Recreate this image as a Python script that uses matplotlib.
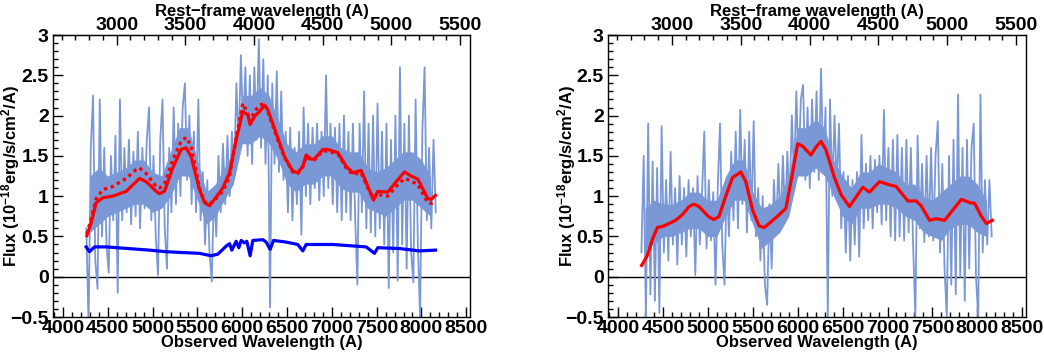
import numpy as np
import matplotlib
matplotlib.use("Agg")
import matplotlib.pyplot as plt
from matplotlib.ticker import MultipleLocator

plt.rcParams['font.family'] = ['Liberation Sans', 'DejaVu Sans']
plt.rcParams['font.weight'] = 'bold'
plt.rcParams['mathtext.default'] = 'bf'
plt.rcParams['mathtext.fontset'] = 'custom'
plt.rcParams['mathtext.bf'] = 'Liberation Sans:bold'

zp1 = 1.533  # 1+z, observed / rest

# spectrum sampling (observed wavelength, A)
wave = np.arange(4260, 8161, 25)

flux_left = [
    0.6, -0.6, 1.6, 2.25, 0.2, -0.15, 2.2, 0.5, 1.6, 0.4,
    0.05, 1.5, 0.7, 1.75, -0.2, 2.2, 0.7, 1.6, 0.8, 1.7,
    0.65, 1.55, 0.75, 1.8, 0.6, 1.6, 0.85, 1.7, 2.1, 0.7,
    1.5, 0.5, 0.02, 1.7, 2.2, 0.6, 0.1, 1.6, 0.8, 2.1,
    0.9, 1.9, 1.0, 2.1, 2.4, 1.2, 2.0, 0.9, 1.8, 0.8,
    2.2, 0.7, 1.3, 0.4, 1.2, 0.3, -0.06, 1.1, 0.5, 1.5,
    0.8, 1.65, 0.9, 1.75, 1.0, 1.8, 1.3, 2.4, 1.6, 2.75,
    1.8, 2.6, 1.5, 2.5, 1.4, 2.6, 1.7, 2.95, 1.6, 2.7,
    1.4, 2.5, -0.38, 2.4, 1.4, 2.55, 1.3, 2.3, 1.2, 1.8,
    0.8, 1.85, 0.7, 1.6, 0.9, 1.8, 0.52, 2.1, 1.0, 1.9,
    0.9, 1.85, 1.1, 1.9, 0.95, 1.8, 1.0, 2.5, 1.1, 1.9,
    0.9, 1.85, 0.8, 1.9, 0.7, 2.0, 0.8, 1.8, 0.7, 1.9,
    0.75, -0.1, 1.9, 0.8, 2.3, 0.6, 1.9, 0.55, 2.0, 0.5,
    2.15, 0.6, 1.8, 0.4, 1.9, -0.14, 1.7, 0.3, 2.0, -0.05,
    2.6, 0.4, 1.9, 0.1, 2.0, 0.3, -0.07, 2.2, 0.4, -0.5,
    1.8, 2.6, 0.7, 1.6, 0.6, 1.7, 0.8,
]

flux_right = [
    0.3, 1.5, -0.5, 1.9, -0.22, 1.43, -0.3, 1.35, -0.45, 1.87,
    0.3, 1.2, 0.2, 1.55, 0.4, 1.1, 0.15, 1.25, 0.4, 1.1,
    0.25, 1.2, 0.5, 1.1, 0.02, 1.25, 0.4, 1.05, 1.8, 0.35,
    1.2, 0.45, 1.05, -0.1, 1.1, 1.9, 0.4, -0.1, 1.2, 0.5,
    1.55, 0.7, 1.8, 0.6, 2.07, 0.9, 1.7, 0.55, 1.8, 0.7,
    1.93, 0.5, 1.1, 0.2, 1.0, -0.1, -0.35, 0.9, 0.1, 1.2,
    0.55, 1.4, 0.6, 1.5, 0.7, 1.55, 0.9, 2.0, 1.2, 2.3,
    1.3, 2.2, 2.38, 1.2, 2.1, 1.1, 2.2, 1.3, 2.3, 1.2,
    2.58, 1.3, 2.1, -0.5, 2.2, 1.0, 2.0, 1.1, 1.9, 0.6,
    1.3, 0.3, 1.25, 0.2, 1.2, 0.4, 1.3, 0.25, 1.76, 0.6,
    1.4, 0.7, 1.5, 0.6, 1.45, 0.8, 1.5, 0.65, 2.07, 0.7,
    1.6, 0.5, 1.7, 0.45, 1.76, 0.5, 1.6, 0.45, 1.7, 0.55,
    1.6, 0.4, -0.5, 1.75, 0.6, 1.4, 0.43, 1.5, 0.5, 1.6,
    0.45, 1.5, 1.93, 0.3, 1.4, 0.1, -0.5, 1.5, -0.1, 1.7,
    -0.22, 2.26, 0.0, 1.6, -0.3, 1.7, 0.1, 1.6, 1.9, 0.0,
    -0.5, 2.26, 0.3, 1.2, 0.4, 1.2, 0.5,
]

# dense core of the spectrum (where most pixels fall)
core_wave = np.arange(4300, 8101, 100)
core_lo_l = [0.55, 0.65, 0.75, 0.8, 0.85, 0.9, 0.9, 0.8, 0.85, 1.0,
             1.25, 1.25, 0.95, 0.65, 0.75, 0.95, 1.15, 1.65, 1.65, 1.75,
             1.65, 1.45, 1.15, 1.05, 1.15, 1.15, 1.25, 1.25, 1.1, 1.05,
             1.05, 0.85, 0.8, 0.75, 0.85, 0.95, 0.95, 0.85, 0.75]
core_hi_l = [1.25, 1.35, 1.25, 1.3, 1.35, 1.45, 1.45, 1.3, 1.25, 1.55,
             1.85, 1.85, 1.45, 1.05, 1.15, 1.35, 1.55, 2.25, 2.25, 2.35,
             2.25, 1.95, 1.65, 1.55, 1.65, 1.65, 1.75, 1.75, 1.6, 1.55,
             1.55, 1.35, 1.3, 1.35, 1.45, 1.55, 1.55, 1.45, 1.25]
core_lo_r = [0.35, 0.4, 0.5, 0.5, 0.55, 0.6, 0.6, 0.5, 0.5, 0.75,
             0.95, 0.95, 0.65, 0.35, 0.45, 0.55, 0.75, 1.25, 1.25, 1.35,
             1.25, 1.0, 0.75, 0.65, 0.85, 0.85, 0.9, 0.9, 0.85, 0.75,
             0.7, 0.55, 0.5, 0.45, 0.6, 0.65, 0.65, 0.55, 0.5]
core_hi_r = [0.85, 0.95, 0.9, 0.9, 0.95, 1.05, 1.05, 0.95, 0.95, 1.25,
             1.45, 1.45, 1.05, 0.85, 0.9, 1.0, 1.25, 1.85, 1.85, 1.95,
             1.85, 1.45, 1.25, 1.1, 1.3, 1.3, 1.4, 1.35, 1.3, 1.15,
             1.15, 1.0, 0.95, 1.05, 1.15, 1.25, 1.25, 1.15, 0.95]

# smooth model fits
fit_wave_l = [4266, 4314, 4370, 4444, 4556, 4705, 4816, 4853, 4928, 5039,
              5077, 5132, 5225, 5318, 5374, 5430, 5523, 5579, 5635, 5690,
              5783, 5858, 5932, 6006, 6062, 6088, 6137, 6193, 6249, 6286,
              6379, 6472, 6564, 6620, 6676, 6713, 6769, 6806, 6899, 6955,
              7067, 7160, 7234, 7327, 7402, 7465, 7513, 7625, 7718, 7811,
              7885, 7960, 8071, 8109, 8157]
fit_l = [0.51, 0.67, 0.92, 0.98, 1.0, 1.06, 1.18, 1.22, 1.18, 1.06,
         1.03, 1.06, 1.35, 1.58, 1.60, 1.49, 1.08, 0.92, 0.88, 0.96,
         1.10, 1.29, 1.70, 2.05, 2.01, 1.89, 1.99, 2.05, 2.13, 2.07,
         1.78, 1.49, 1.31, 1.29, 1.37, 1.51, 1.46, 1.46, 1.58, 1.58,
         1.54, 1.37, 1.29, 1.32, 1.12, 0.95, 1.06, 1.05, 1.18, 1.30,
         1.25, 1.21, 0.97, 0.96, 1.01]
fit2_l = [0.53, 0.72, 0.97, 1.08, 1.12, 1.22, 1.33, 1.35, 1.28, 1.12,
          1.10, 1.15, 1.45, 1.68, 1.73, 1.62, 1.10, 0.93, 0.90, 0.95,
          1.06, 1.24, 1.72, 2.15, 2.02, 1.93, 2.05, 2.13, 2.15, 2.05,
          1.75, 1.48, 1.30, 1.28, 1.36, 1.49, 1.45, 1.45, 1.56, 1.56,
          1.52, 1.35, 1.27, 1.29, 1.10, 0.97, 1.02, 1.00, 1.12, 1.22,
          1.19, 1.14, 0.92, 0.91, 0.94]

err_wave = [4258, 4295, 4351, 4481, 4965, 5151, 5523, 5653, 5728, 5821,
            5858, 5884, 5932, 5962, 5988, 6025, 6051, 6088, 6118, 6230,
            6267, 6312, 6349, 6490, 6620, 6676, 6713, 7011, 7383, 7476,
            7513, 7755, 7978, 8157]
err_l = [0.37, 0.31, 0.37, 0.37, 0.33, 0.31, 0.29, 0.26, 0.28, 0.38,
         0.41, 0.33, 0.44, 0.36, 0.45, 0.42, 0.44, 0.26, 0.45, 0.46,
         0.43, 0.34, 0.45, 0.43, 0.40, 0.32, 0.40, 0.40, 0.37, 0.29,
         0.36, 0.35, 0.32, 0.33]

fit_wave_r = [4262, 4325, 4381, 4437, 4511, 4641, 4716, 4790, 4846, 4902,
              5013, 5069, 5125, 5199, 5274, 5367, 5422, 5497, 5571, 5627,
              5702, 5795, 5869, 5925, 6000, 6055, 6148, 6204, 6260, 6316,
              6409, 6483, 6576, 6632, 6725, 6800, 6911, 7022, 7096, 7227,
              7320, 7375, 7468, 7543, 7636, 7729, 7822, 7915, 7971, 8045,
              8101, 8168]
fit_r = [0.14, 0.26, 0.46, 0.61, 0.63, 0.70, 0.77, 0.87, 0.90, 0.87,
         0.74, 0.71, 0.75, 1.00, 1.23, 1.30, 1.18, 0.83, 0.63, 0.61,
         0.68, 0.77, 0.85, 1.18, 1.65, 1.62, 1.51, 1.61, 1.68, 1.57,
         1.23, 1.02, 0.87, 0.96, 1.11, 1.05, 1.18, 1.14, 1.12, 0.94,
         0.94, 0.88, 0.70, 0.72, 0.70, 0.83, 0.96, 0.92, 0.91, 0.75,
         0.66, 0.70]

spec_color = '#7a98d6'
TICK_FS = 14
LAB_FS = 12

fig = plt.figure(figsize=(10.44, 3.54), dpi=100)
ax1 = fig.add_axes([53/1044, 1-317/354, 417/1044, 282/354])
ax2 = fig.add_axes([608/1044, 1-317/354, 418/1044, 282/354])

for ax, ylx in ((ax1, -0.074), (ax2, -0.071)):
    ax.set_xlim(3888, 8542)
    ax.set_ylim(-0.5, 3)
    ax.axhline(0, color='black', lw=1, zorder=1)
    ax.xaxis.set_major_locator(MultipleLocator(500))
    ax.xaxis.set_minor_locator(MultipleLocator(100))
    ax.yaxis.set_minor_locator(MultipleLocator(0.1))
    ax.tick_params(which='both', direction='in', top=False, right=False,
                   labelsize=TICK_FS, width=1)
    ax.tick_params(which='major', length=7)
    ax.tick_params(which='minor', length=3.5)
    ax.tick_params(axis='x', pad=2)
    ax.tick_params(axis='y', pad=3)
    ax.set_yticks([-0.5, 0, 0.5, 1, 1.5, 2, 2.5, 3])
    ax.set_yticklabels(['\u22120.5', '0', '0.5', '1', '1.5', '2', '2.5', '3'])
    ax.set_xlabel('Observed Wavelength (A)', fontsize=LAB_FS, fontweight='bold',
                  labelpad=-1)
    ax.set_ylabel(r'Flux (10$^{-18}$erg/s/cm$^{2}$/A)', fontsize=LAB_FS,
                  fontweight='bold')
    ax.yaxis.set_label_coords(ylx, 0.5)
    for sp in ax.spines.values():
        sp.set_linewidth(1)
    sec = ax.secondary_xaxis('top', functions=(lambda x: x / zp1,
                                               lambda x: x * zp1))
    sec.xaxis.set_major_locator(MultipleLocator(500))
    sec.xaxis.set_minor_locator(MultipleLocator(100))
    sec.tick_params(which='both', direction='in', labelsize=TICK_FS, width=1, pad=0.5)
    sec.tick_params(which='major', length=7)
    sec.tick_params(which='minor', length=3.5)
    sec.set_xlabel('Rest\u2212frame wavelength (A)', fontsize=LAB_FS,
                   fontweight='bold', labelpad=1)

ax1.fill_between(core_wave, core_lo_l, core_hi_l, color=spec_color, lw=0, zorder=2)
ax1.plot(wave, flux_left, color=spec_color, lw=1.3, zorder=2)
ax1.plot(err_wave, err_l, color='#0000ff', lw=2.3, zorder=3)
ax1.plot(fit_wave_l, fit2_l, color='#ff0000', lw=2.4, ls=(0, (1, 1.1)), zorder=4)
ax1.plot(fit_wave_l, fit_l, color='#ff0000', lw=2.3, zorder=5)

ax2.fill_between(core_wave, core_lo_r, core_hi_r, color=spec_color, lw=0, zorder=2)
ax2.plot(wave, flux_right, color=spec_color, lw=1.3, zorder=2)
ax2.plot(fit_wave_r, fit_r, color='#ff0000', lw=2.3, zorder=5)

fig.savefig('out.png', dpi=100)
